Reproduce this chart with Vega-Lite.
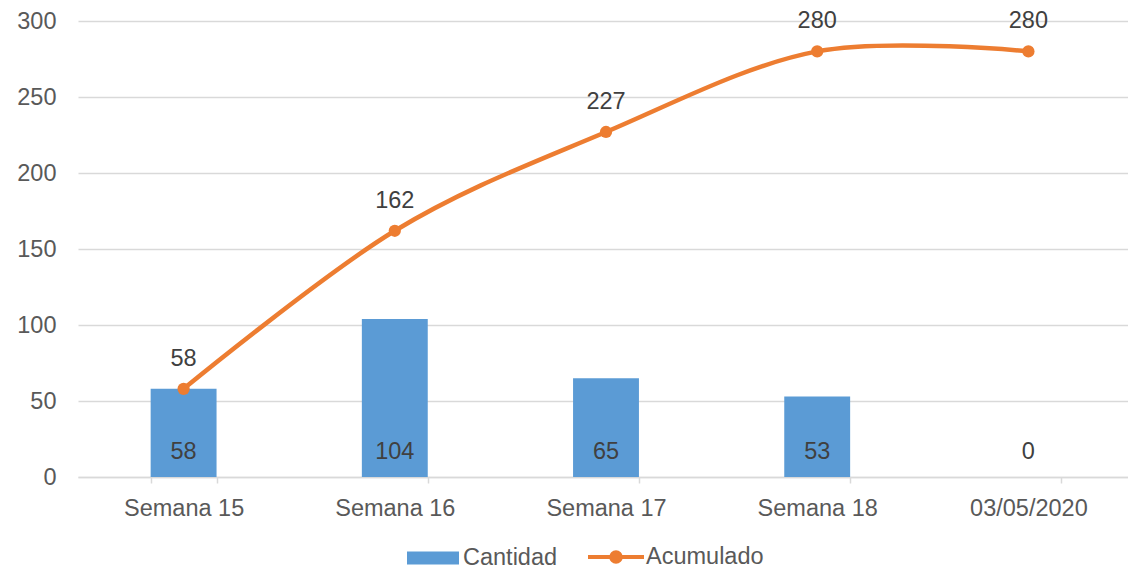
{
  "$schema": "https://vega.github.io/schema/vega-lite/v6.json",
  "autosize": "none",
  "width": 1056,
  "height": 456,
  "padding": {"left": 78, "top": 21, "right": 0, "bottom": 92},
  "background": "white",
  "config": {
    "font": "Liberation Sans",
    "view": {"stroke": null},
    "axis": {"labelFont": "Liberation Sans", "labelFontSize": 23.5, "labelColor": "#595959", "title": null},
    "legend": {"labelFont": "Liberation Sans", "labelFontSize": 23.5, "labelColor": "#595959", "padding": 0}
  },
  "data": {
    "values": [
      {"semana": "Semana 15", "cantidad": 58, "acumulado": 58},
      {"semana": "Semana 16", "cantidad": 104, "acumulado": 162},
      {"semana": "Semana 17", "cantidad": 65, "acumulado": 227},
      {"semana": "Semana 18", "cantidad": 53, "acumulado": 280},
      {"semana": "03/05/2020", "cantidad": 0, "acumulado": 280}
    ]
  },
  "encoding": {
    "x": {
      "field": "semana", "type": "nominal", "sort": null,
      "scale": {"type": "band", "paddingInner": 0.688, "paddingOuter": 0.344},
      "axis": {
        "title": null, "labelAngle": 0, "domainColor": "#d9d9d9", "domainWidth": 1.5,
        "ticks": true, "tickColor": "#d9d9d9", "tickWidth": 1.5, "tickSize": 6, "tickBand": "extent",
        "labelPadding": 13, "grid": false
      }
    }
  },
  "layer": [
    {
      "mark": {"type": "bar", "stroke": null},
      "encoding": {
        "y": {
          "field": "cantidad", "type": "quantitative",
          "scale": {"domain": [0, 300], "nice": false},
          "axis": {"title": null, "values": [0, 50, 100, 150, 200, 250, 300], "grid": true, "gridColor": "#d9d9d9", "gridWidth": 1.5, "domain": false, "ticks": false, "labelPadding": 22}
        },
        "fill": {
          "datum": "Cantidad",
          "scale": {"domain": ["Cantidad"], "range": ["#5B9BD5"]},
          "legend": {
            "title": null, "orient": "none", "legendX": 329, "legendY": 511,
            "symbolType": "M-1,-0.25H1V0.25H-1Z", "symbolSize": 2704, "symbolStrokeWidth": 0, "labelOffset": 4
          }
        }
      }
    },
    {
      "mark": {"type": "text", "fontSize": 23.5, "color": "#404040", "baseline": "alphabetic", "dy": -18},
      "encoding": {
        "y": {"datum": 0, "type": "quantitative"},
        "text": {"field": "cantidad", "type": "quantitative"}
      }
    },
    {
      "mark": {"type": "line", "interpolate": "cardinal", "strokeWidth": 4.5},
      "encoding": {
        "y": {"field": "acumulado", "type": "quantitative"},
        "stroke": {
          "datum": "Acumulado",
          "scale": {"domain": ["Acumulado"], "range": ["#ED7D31"]},
          "legend": {
            "title": null, "orient": "none", "legendX": 508, "legendY": 506,
            "symbolType": "M-1,0H1M0.17,0A0.17,0.17 0 1,1 -0.17,0A0.17,0.17 0 1,1 0.17,0M0.07,0A0.07,0.07 0 1,1 -0.07,0A0.07,0.07 0 1,1 0.07,0",
            "symbolSize": 3136, "symbolStrokeWidth": 4, "symbolFillColor": "transparent", "labelOffset": 0
          }
        }
      }
    },
    {
      "mark": {"type": "point", "filled": true, "size": 150, "color": "#ED7D31", "opacity": 1},
      "encoding": {
        "y": {"field": "acumulado", "type": "quantitative"}
      }
    },
    {
      "mark": {"type": "text", "fontSize": 23.5, "color": "#404040", "baseline": "alphabetic", "dy": -23},
      "encoding": {
        "y": {"field": "acumulado", "type": "quantitative"},
        "text": {"field": "acumulado", "type": "quantitative"}
      }
    }
  ]
}
